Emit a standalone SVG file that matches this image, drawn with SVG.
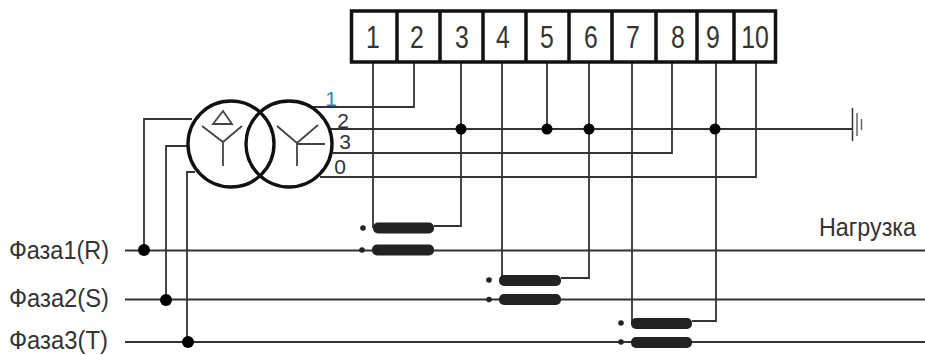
<svg xmlns="http://www.w3.org/2000/svg" width="925" height="355" viewBox="0 0 925 355">
<style>
.w{fill:none;stroke:#333;stroke-width:1.8;stroke-linejoin:miter}
.t{fill:none;stroke:#111;stroke-width:3.400}
.s{fill:none;stroke:#444;stroke-width:1.800}
.dot{fill:#000}
.small{fill:#222}
.bar{fill:#222}
text{font-family:"Liberation Sans",Arial,sans-serif;fill:#333}
.num{font-size:31px;text-anchor:middle}
.lab{font-size:25px}
.wn{font-size:21px;text-anchor:middle}
</style>
<rect width="925" height="355" fill="#fff"/>
<g id="connectors">
<path class="w" d="M313 107H414V62"/>
<path class="w" d="M330 129H852"/>
<path class="w" d="M333 153H672V62"/>
<path class="w" d="M320 177H756V62"/>
<path class="w" d="M547 62V129"/>
<path class="w" d="M373 62V228"/>
<path class="w" d="M461 62V226H434"/>
<path class="w" d="M502 62V280"/>
<path class="w" d="M589 62V278H561"/>
<path class="w" d="M632 62V323"/>
<path class="w" d="M716 62V321H692"/>
<path class="w" d="M192 119H144V250"/>
<path class="w" d="M187 146H166V300"/>
<path class="w" d="M195 172H187V342"/>
<path class="w" d="M125 250.500H925"/>
<path class="w" d="M125 299.500H925"/>
<path class="w" d="M125 342H925"/>
<circle class="dot" cx="461" cy="129" r="5.500"/>
<circle class="dot" cx="547" cy="129" r="5.500"/>
<circle class="dot" cx="589" cy="129" r="5.500"/>
<circle class="dot" cx="715" cy="129" r="5.500"/>
<circle class="dot" cx="144" cy="250" r="6"/>
<circle class="dot" cx="166" cy="300" r="6"/>
<circle class="dot" cx="188" cy="342" r="6"/>
</g>
<g id="terminals">
<rect x="351.500" y="11" width="424" height="51" fill="#fff" stroke="#111" stroke-width="3.500"/>
<path fill="none" stroke="#111" stroke-width="3.500" d="M397 11V62M440 11V62M483 11V62M526 11V62M569 11V62M612 11V62M656 11V62M697 11V62M734 11V62"/>
<text class="num" transform="translate(373 47.500) scale(.8 1)">1</text>
<text class="num" transform="translate(417 47.500) scale(.8 1)">2</text>
<text class="num" transform="translate(462 47.500) scale(.8 1)">3</text>
<text class="num" transform="translate(503 47.500) scale(.8 1)">4</text>
<text class="num" transform="translate(547 47.500) scale(.8 1)">5</text>
<text class="num" transform="translate(591 47.500) scale(.8 1)">6</text>
<text class="num" transform="translate(633 47.500) scale(.8 1)">7</text>
<text class="num" transform="translate(678 47.500) scale(.8 1)">8</text>
<text class="num" transform="translate(713 47.500) scale(.8 1)">9</text>
<text class="num" transform="translate(755 47.500) scale(.8 1)">10</text>
</g>
<g id="transformer">
<circle class="t" cx="231" cy="144" r="43"/>
<circle class="t" cx="289" cy="144" r="43"/>
<path class="s" d="M223 111L213 124H232ZM202 126L223 142L242 126M223 142V166"/>
<path class="s" d="M277 126L297 143L318 125M297 143V166M297 144H325"/>
<text class="wn" x="331" y="106" style="fill:#1a8fb0">1</text>
<text class="wn" x="343" y="128">2</text>
<text class="wn" x="345" y="149">3</text>
<text class="wn" x="340" y="174">0</text>
</g>
<g id="ground">
<path fill="none" stroke="#333" stroke-width="1.500" d="M852.500 108V141"/>
<path fill="none" stroke="#666" stroke-width="1.500" d="M857 113V136M861.500 119V130"/>
</g>
<g id="ct1">
<rect class="bar" x="373" y="222.500" width="61" height="11" rx="5"/>
<rect class="bar" x="372" y="244.500" width="62" height="11" rx="5"/>
<circle class="small" cx="363" cy="228" r="2.800"/>
<circle class="small" cx="362" cy="250" r="2.800"/>
</g>
<g id="ct2">
<rect class="bar" x="499" y="275" width="62" height="11" rx="5"/>
<rect class="bar" x="499" y="294" width="62" height="11" rx="5"/>
<circle class="small" cx="489" cy="280" r="2.800"/>
<circle class="small" cx="489" cy="299.500" r="2.800"/>
</g>
<g id="ct3">
<rect class="bar" x="631" y="318" width="61" height="11" rx="5"/>
<rect class="bar" x="631" y="337" width="61" height="11" rx="5"/>
<circle class="small" cx="621" cy="323" r="2.800"/>
<circle class="small" cx="621" cy="342" r="2.800"/>
</g>
<g id="labels">
<text class="lab" x="9" y="259" textLength="100" lengthAdjust="spacingAndGlyphs">Фаза1(R)</text>
<text class="lab" x="9" y="307" textLength="100" lengthAdjust="spacingAndGlyphs">Фаза2(S)</text>
<text class="lab" x="9" y="349" textLength="99" lengthAdjust="spacingAndGlyphs">Фаза3(T)</text>
<text class="lab" x="819" y="236" textLength="97" lengthAdjust="spacingAndGlyphs">Нагрузка</text>
</g>
</svg>
